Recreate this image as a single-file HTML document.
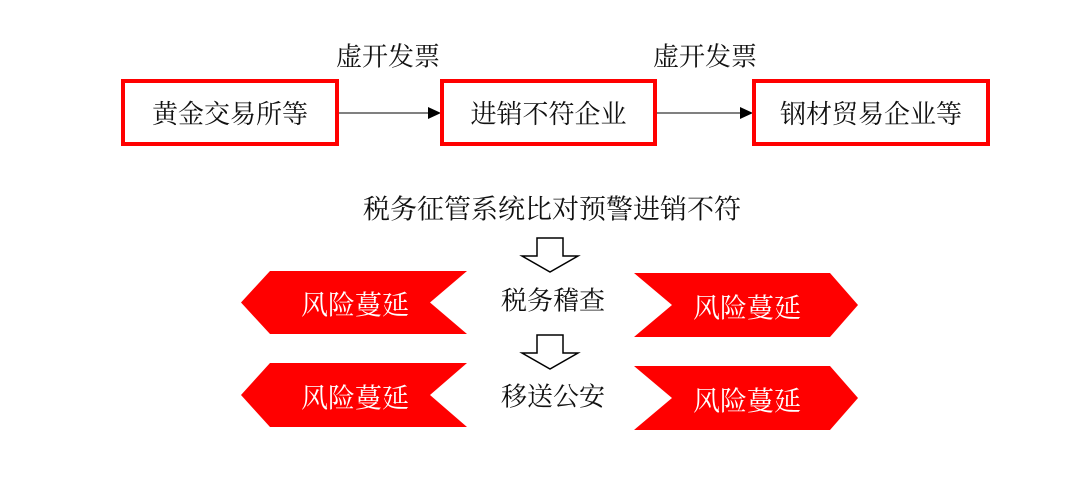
<!DOCTYPE html>
<html><head><meta charset="utf-8"><style>
body{margin:0;width:1091px;height:482px;background:#fff;position:relative;overflow:hidden;font-family:"Liberation Serif","Noto Serif CJK SC",serif;}
.t{position:absolute;font-size:26px;color:#111;white-space:nowrap;transform:translate(-50%,-50%);}
.box{position:absolute;border:4px solid #f00;box-sizing:border-box;display:flex;align-items:center;justify-content:center;font-size:26px;color:#111;}
.w{position:absolute;font-size:27px;color:#fff;white-space:nowrap;transform:translate(-50%,-50%);}
</style></head><body>
<svg width="1091" height="482" style="position:absolute;left:0;top:0">
<line x1="339" y1="113" x2="430" y2="113" stroke="#000" stroke-width="1"/>
<polygon points="428,107 441,113 428,119" fill="#000"/>
<line x1="657" y1="113" x2="742" y2="113" stroke="#000" stroke-width="1"/>
<polygon points="740,107 753,113 740,119" fill="#000"/>
<polygon points="537,238 563,238 563,256 578,256 550,272 522,256 537,256" fill="#fff" stroke="#000" stroke-width="1.5"/>
<polygon points="537,335 563,335 563,353 578,353 550,369 522,353 537,353" fill="#fff" stroke="#000" stroke-width="1.5"/>
<polygon points="467,271 430,302.5 467,334 270,334 241,302.5 270,271" fill="#f00"/>
<polygon points="467,363 430,395 467,427 270,427 241,395 270,363" fill="#f00"/>
<polygon points="634,273 830,273 858,305 830,337 634,337 672,305" fill="#f00"/>
<polygon points="634,366 830,366 858,398 830,430 634,430 672,398" fill="#f00"/>
</svg>
<div class="box" style="left:121px;top:79px;width:218px;height:67px">黄金交易所等</div>
<div class="box" style="left:440px;top:79px;width:217px;height:67px">进销不符企业</div>
<div class="box" style="left:752px;top:79px;width:238px;height:67px">钢材贸易企业等</div>
<div class="t" style="left:388px;top:55px">虚开发票</div>
<div class="t" style="left:705px;top:55px">虚开发票</div>
<div class="t" style="left:552px;top:207px;font-size:27px">税务征管系统比对预警进销不符</div>
<div class="t" style="left:553px;top:299px">税务稽查</div>
<div class="t" style="left:553px;top:395px">移送公安</div>
<div class="w" style="left:355px;top:303px">风险蔓延</div>
<div class="w" style="left:355px;top:396px">风险蔓延</div>
<div class="w" style="left:747px;top:306px">风险蔓延</div>
<div class="w" style="left:747px;top:399px">风险蔓延</div>
</body></html>
